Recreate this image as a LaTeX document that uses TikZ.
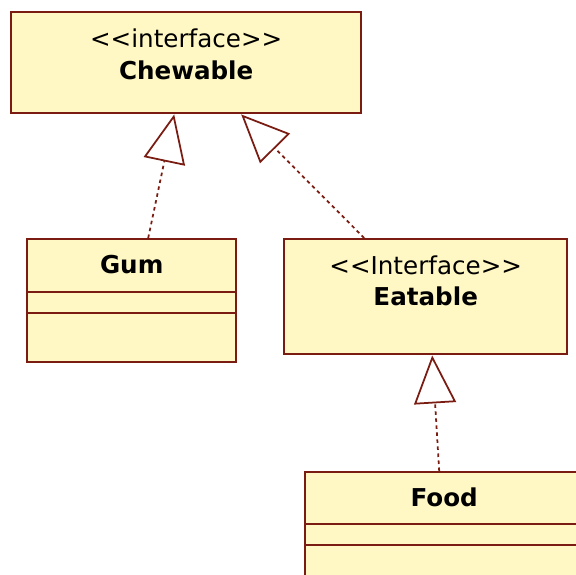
\documentclass[tikz,border=0pt]{standalone}
\usepackage{fontspec}
\newfontfamily\umlfont{DejaVu Sans}
\usetikzlibrary{calc,positioning,arrows.meta}
\definecolor{umlfill}{RGB}{255,248,196}
\definecolor{umlline}{RGB}{122,28,18}

\begin{document}
\begin{tikzpicture}[x=0.02cm, y=-0.02cm,
  box/.style={draw=umlline, fill=umlfill, line width=1.4pt, anchor=north west, inner sep=0pt},
  stereo/.style={font=\umlfont\fontsize{14}{17}\selectfont},
  cname/.style={font=\umlfont\fontsize{14}{17}\selectfont\bfseries},
  divider/.style={draw=umlline, line width=1.4pt},
  realize/.style={draw=umlline, line width=1pt, dash pattern=on 2pt off 2pt,
    -{Triangle[open, length=0.96cm, width=0.84cm, fill=white]}}]
\useasboundingbox (0,0) rectangle (576,575);
\clip (0,0) rectangle (576,575);
% interfaces
\node[box, minimum width=7cm, minimum height=2.02cm] (chew) at (10,11) {};
\node[stereo] (chewst) at ($(chew.north)+(0,27)$) {<<interface>>};
\node[cname] (chewnm) at ($(chew.north)+(0,59)$) {Chewable};
\node[box, minimum width=5.66cm, minimum height=2.3cm] (eat) at (283,238) {};
\node[stereo] (eatst) at ($(eat.north)+(0,27)$) {<<Interface>>};
\node[cname] (eatnm) at ($(eat.north)+(0,58)$) {Eatable};
% classes
\node[box, minimum width=4.18cm, minimum height=2.46cm] (gum) at (26,238) {};
\node[cname] (gumnm) at ($(gum.north)+(0,27)$) {Gum};
\foreach \d in {54,75} {
  \draw[divider] ($(gum.north west)+(0,\d)$) -- ($(gum.north east)+(0,\d)$);
}
\node[box, minimum width=5.56cm, minimum height=2.6cm] (food) at (304,471) {};
\node[cname] (foodnm) at ($(food.north)+(0,26)$) {Food};
\foreach \d in {53,74} {
  \draw[divider] ($(food.north west)+(0,\d)$) -- ($(food.north east)+(0,\d)$);
}
% realizations
\draw[realize] ($(gum.north)+(16.5,0)$) -- ($(chew.south)+(-12,0)$);
\draw[realize] ($(eat.north)+(-61.5,0)$) -- ($(chew.south)+(55,0)$);
\draw[realize] ($(food.north)+(-5,0)$) -- ($(eat.south)+(6.5,0)$);
\end{tikzpicture}
\end{document}
